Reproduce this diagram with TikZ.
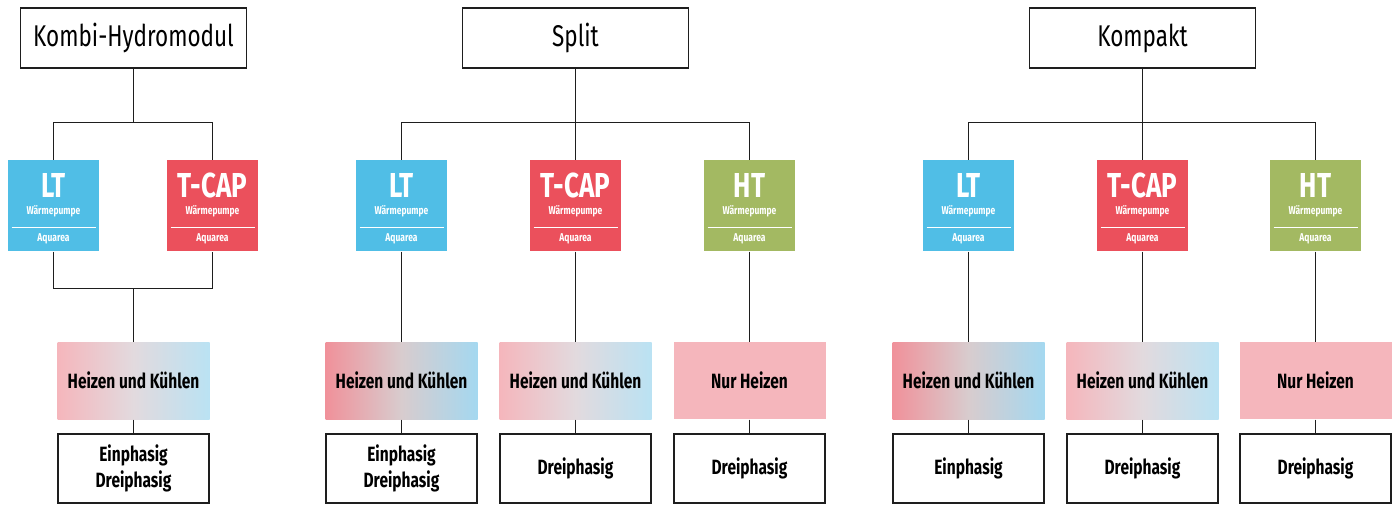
\documentclass[tikz,border=0pt]{standalone}
\usepackage{fontspec}
\setmainfont[FakeStretch=0.75]{Fira Sans}
\usetikzlibrary{positioning}

\definecolor{ltblue}{RGB}{80,190,230}
\definecolor{tcapred}{RGB}{235,80,92}
\definecolor{htgreen}{RGB}{163,185,98}
\definecolor{warmpink}{RGB}{245,182,188}
\definecolor{warmmid}{RGB}{226,218,222}
\definecolor{warmpinkdark}{RGB}{240,145,154}
\definecolor{warmmiddark}{RGB}{216,204,206}
\definecolor{coolblue}{RGB}{186,226,243}
\definecolor{coolbluedark}{RGB}{164,216,240}
\definecolor{linegray}{RGB}{30,30,30}

\tikzset{every picture/.style={line width=0.75pt}}
\tikzset{
  systembox/.style={draw=linegray, line width=0.9pt, minimum width=169.5pt, minimum height=45pt, inner sep=0pt, font=\fontsize{22.5}{25}\selectfont},
  pumpbox/.style={minimum width=68.25pt, minimum height=68.25pt, inner sep=0pt},
  pumptype/.style={text=white, inner sep=0pt, font=\bfseries\fontsize{26}{28}\selectfont},
  pumpsmall/.style={text=white, inner sep=0pt, font=\bfseries\fontsize{8.5}{10}\selectfont},
  modebox/.style={minimum width=114pt, minimum height=57.75pt, inner sep=0pt, font=\bfseries\fontsize{15.5}{18}\selectfont},
  softmode/.style={modebox, left color=warmpink, right color=coolblue, middle color=warmmid},
  strongmode/.style={modebox, left color=warmpinkdark, right color=coolbluedark, middle color=warmmiddark},
  heatmode/.style={modebox, fill=warmpink},
  phasebox/.style={draw=linegray, line width=0.9pt, minimum width=113.25pt, minimum height=51.75pt, inner sep=0pt, align=center, font=\bfseries\fontsize{15.5}{19}\selectfont},
  link/.style={draw=linegray, line width=1pt}
}

% colored heat pump box with its labels
\newcommand{\pumpunit}[4]{%
  \node[pumpbox, fill=#3] (#1) at (#2) {};
  \node[pumptype] at ([shift={(0,-20)}]#1.center) {#4};
  \node[pumpsmall] at ([shift={(0,6)}]#1.center) {Wärmepumpe};
  \draw[white, line width=0.9pt] ([shift={(4,22)}]#1.west) -- ([shift={(-4,22)}]#1.east);
  \node[pumpsmall] at ([shift={(0,33.5)}]#1.center) {Aquarea};
}

\begin{document}
\begin{tikzpicture}[x=0.75pt,y=0.75pt,yscale=-1,xscale=1]
    \useasboundingbox (0,0) rectangle (1397,504);

    % System headers
    \node[systembox] (kombi) at (133.5,38) {Kombi-Hydromodul};
    \node[systembox] (split) at (575.5,38) {Split};
    \node[systembox] (kompakt) at (1142.5,38) {Kompakt};

    % Heat pumps
    \pumpunit{LtA}{53.5,205.5}{ltblue}{LT}
    \pumpunit{TcapA}{212.5,205.5}{tcapred}{T-CAP}
    \pumpunit{LtB}{401.5,205.5}{ltblue}{LT}
    \pumpunit{TcapB}{575.5,205.5}{tcapred}{T-CAP}
    \pumpunit{HtB}{749.5,205.5}{htgreen}{HT}
    \pumpunit{LtC}{968.5,205.5}{ltblue}{LT}
    \pumpunit{TcapC}{1142.5,205.5}{tcapred}{T-CAP}
    \pumpunit{HtC}{1315.5,205.5}{htgreen}{HT}

    % Operating modes
    \node[softmode] (modeA) at (133.5,380.5) {Heizen und Kühlen};
    \node[strongmode] (modeLtB) at (401.5,380.5) {Heizen und Kühlen};
    \node[softmode] (modeTcapB) at (575.5,380.5) {Heizen und Kühlen};
    \node[heatmode] (modeHtB) at (749.5,380.5) {Nur Heizen};
    \node[strongmode] (modeLtC) at (968.5,380.5) {Heizen und Kühlen};
    \node[softmode] (modeTcapC) at (1142.5,380.5) {Heizen und Kühlen};
    \node[heatmode] (modeHtC) at (1315.5,380.5) {Nur Heizen};

    % Phases
    \node[phasebox] (phaseA) at (133.5,468.5) {Einphasig\\Dreiphasig};
    \node[phasebox] (phaseLtB) at (401.5,468.5) {Einphasig\\Dreiphasig};
    \node[phasebox] (phaseTcapB) at (575.5,468.5) {Dreiphasig};
    \node[phasebox] (phaseHtB) at (749.5,468.5) {Dreiphasig};
    \node[phasebox] (phaseLtC) at (968.5,468.5) {Einphasig};
    \node[phasebox] (phaseTcapC) at (1142.5,468.5) {Dreiphasig};
    \node[phasebox] (phaseHtC) at (1315.5,468.5) {Dreiphasig};

    % Connectors: Kombi-Hydromodul
    \draw[link] (kombi.south) -- ++(0,54) coordinate (kombiBar);
    \draw[link] (LtA.north) |- (kombiBar) -| (TcapA.north);
    \draw[link] (modeA.north) -- ++(0,-53) coordinate (kombiJoin);
    \draw[link] (LtA.south) |- (kombiJoin) -| (TcapA.south);
    \draw[link] (modeA.south) -- (phaseA.north);

    % Connectors: Split
    \draw[link] (split.south) -- ++(0,54) coordinate (splitBar);
    \draw[link] (LtB.north) |- (splitBar) -| (HtB.north);
    \draw[link] (splitBar) -- (TcapB.north);

    % Connectors: Kompakt
    \draw[link] (kompakt.south) -- ++(0,54) coordinate (kompaktBar);
    \draw[link] (LtC.north) |- (kompaktBar) -| (HtC.north);
    \draw[link] (kompaktBar) -- (TcapC.north);

    % Pump -> mode -> phase
    \foreach \t in {LtB,TcapB,HtB,LtC,TcapC,HtC}{
        \draw[link] (\t.south) -- (mode\t.north);
        \draw[link] (mode\t.south) -- (phase\t.north);
    }

\end{tikzpicture}
\end{document}
